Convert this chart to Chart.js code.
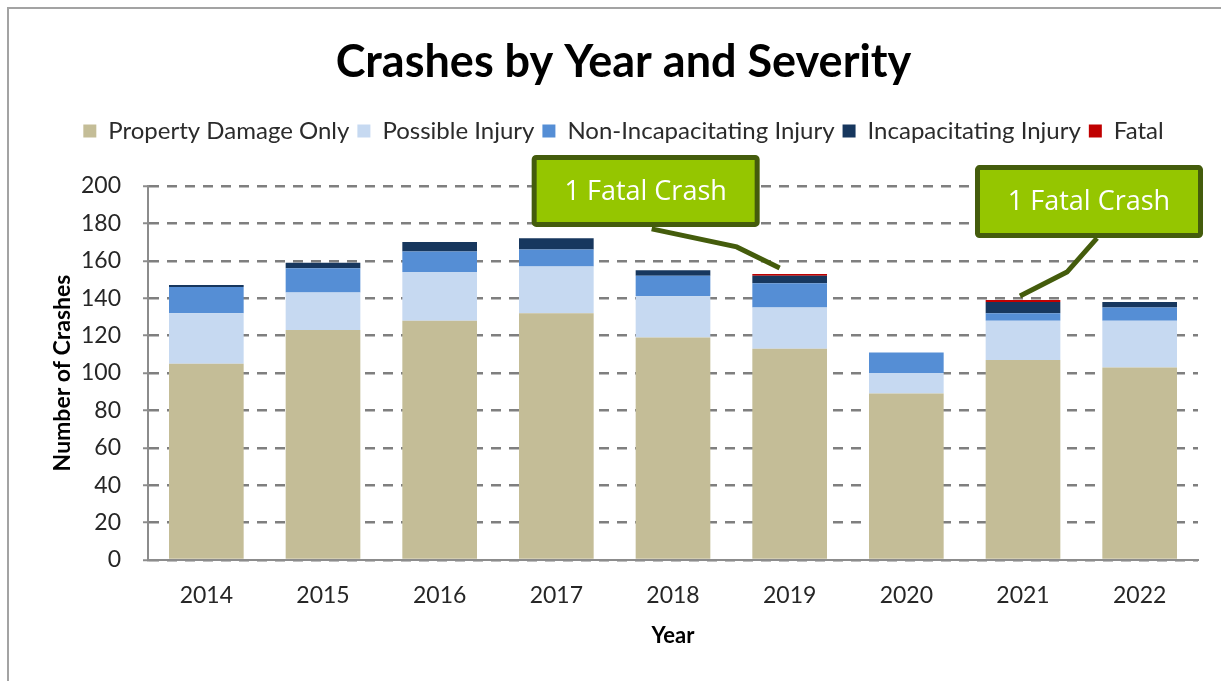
<!DOCTYPE html>
<html>
<head>
<meta charset="utf-8">
<script src="https://cdn.jsdelivr.net/npm/chart.js@4/dist/chart.umd.min.js"></script>
<style>
  html, body { margin: 0; padding: 0; background: #ffffff; }
  #wrap { position: relative; width: 1221px; height: 681px; overflow: hidden; }
  #frame { position: absolute; left: 7px; top: 7px; width: 1300px; height: 720px; border: 2px solid #a3a3a3; box-sizing: border-box; pointer-events: none; }
  canvas { position: absolute; left: 0; top: 0; }
</style>
</head>
<body>
<div id="wrap">
  <canvas id="c" width="1221" height="681"></canvas>
  <div id="frame"></div>
</div>
<script>
const years = ['2014', '2015', '2016', '2017', '2018', '2019', '2020', '2021', '2022'];
const propertyDamageOnly = [105, 123, 128, 132, 119, 113, 89, 107, 103];
const possibleInjury = [27, 20, 26, 25, 22, 22, 11, 21, 25];
const nonIncapacitatingInjury = [14, 13, 11, 9, 11, 13, 11, 4, 7];
const incapacitatingInjury = [1, 3, 5, 6, 3, 4, 0, 6, 3];
const fatal = [0, 0, 0, 0, 0, 1, 0, 1, 0];
const yTicks = [0, 20, 40, 60, 80, 100, 120, 140, 160, 180, 200];
const calloutText = '1 Fatal Crash';
const calloutYears = ['2019', '2021'];

const FONT = 'Lato, "Open Sans", sans-serif';

// callout geometry (offsets from the top of the referenced bar)
const calloutGeom = [
  { dx: -258, dy: -119, w: 228, h: 72, line: [[-138, -45], [-53, -27], [-10, -6]] },
  { dx: -48, dy: -135, w: 228, h: 73, line: [[74, -62], [44, -28], [-3, -4]] }
];

const calloutPlugin = {
  id: 'callouts',
  afterDraw(chart) {
    const ctx = chart.ctx;
    const xs = chart.scales.x, ys = chart.scales.y;
    calloutYears.forEach((yr, k) => {
      const i = years.indexOf(yr);
      const total = propertyDamageOnly[i] + possibleInjury[i] + nonIncapacitatingInjury[i] + incapacitatingInjury[i] + fatal[i];
      const ax = xs.getPixelForValue(i);
      const ay = ys.getPixelForValue(total);
      const g = calloutGeom[k];
      ctx.save();
      ctx.strokeStyle = '#445c0c';
      ctx.lineWidth = 5;
      ctx.lineJoin = 'miter';
      ctx.beginPath();
      g.line.forEach((p, j) => {
        if (j === 0) ctx.moveTo(ax + p[0], ay + p[1]); else ctx.lineTo(ax + p[0], ay + p[1]);
      });
      ctx.stroke();
      const bx = ax + g.dx, by = ay + g.dy;
      ctx.fillStyle = '#95c600';
      ctx.strokeStyle = '#445c0c';
      ctx.lineWidth = 5;
      ctx.beginPath();
      if (ctx.roundRect) ctx.roundRect(bx + 2.5, by + 2.5, g.w - 5, g.h - 5, 2); else ctx.rect(bx + 2.5, by + 2.5, g.w - 5, g.h - 5);
      ctx.fill();
      ctx.stroke();
      ctx.fillStyle = '#ffffff';
      ctx.font = '27px "Open Sans", sans-serif';
      ctx.textAlign = 'center';
      ctx.textBaseline = 'middle';
      ctx.fillText(calloutText, bx + g.w / 2, by + g.h / 2 + 1);
      ctx.restore();
    });
  }
};

const mk = (label, data, color) => ({
  label, data, backgroundColor: color, borderWidth: 0,
  barPercentage: 0.64, categoryPercentage: 1.0, stack: 's'
});

new Chart(document.getElementById('c'), {
  type: 'bar',
  data: {
    labels: years,
    datasets: [
      mk('Property Damage Only', propertyDamageOnly, '#c4bd97'),
      mk('Possible Injury', possibleInjury, '#c6d9f1'),
      mk('Non-Incapacitating Injury', nonIncapacitatingInjury, '#558ed5'),
      mk('Incapacitating Injury', incapacitatingInjury, '#17375e'),
      mk('Fatal', fatal, '#c00000')
    ]
  },
  options: {
    responsive: false,
    animation: false,
    devicePixelRatio: 1,
    layout: { padding: { left: 49, right: 23, top: 0, bottom: 0 } },
    plugins: {
      title: {
        display: true,
        text: 'Crashes by Year and Severity',
        color: '#000000',
        font: { family: FONT, size: 45, weight: 'bold' },
        padding: { top: 35, bottom: 22 }
      },
      legend: {
        display: true,
        labels: {
          color: '#2b2b2b',
          font: { family: FONT, size: 24 },
          boxWidth: 13, boxHeight: 13, padding: 8
        }
      },
      tooltip: { enabled: false }
    },
    scales: {
      x2: {
        type: 'category', labels: years, position: 'top', display: true,
        grid: { display: false, drawTicks: false },
        border: { display: false },
        ticks: { display: false },
        afterFit(s) { s.height = 33; }
      },
      x: {
        stacked: true,
        grid: { display: false, drawTicks: false },
        border: { display: true, color: '#8c8c8c', width: 2 },
        ticks: { color: '#262626', font: { family: FONT, size: 23 }, padding: 22 },
        title: { display: true, text: 'Year', color: '#000000', font: { family: FONT, size: 22, weight: 'bold' }, padding: { top: 0, bottom: 32 } },
        afterFit(s) { s.height = 121; }
      },
      y: {
        stacked: true,
        min: 0, max: 200,
        afterBuildTicks(s) { s.ticks = yTicks.map(v => ({ value: v })); },
        grid: { color: '#7f7f7f', lineWidth: 2.5, tickLength: 5, tickBorderDash: [], tickColor: '#8c8c8c', tickWidth: 2 },
        border: { display: true, color: '#8c8c8c', width: 2, dash: [10, 8] },
        ticks: { color: '#262626', font: { family: FONT, size: 23 }, padding: 22 },
        title: { display: true, text: 'Number of Crashes', color: '#000000', font: { family: FONT, size: 23, weight: 'bold' }, padding: { top: 0, bottom: 0 } },
        afterFit(s) { s.width = 99; }
      }
    }
  },
  plugins: [calloutPlugin]
});
</script>
</body>
</html>
